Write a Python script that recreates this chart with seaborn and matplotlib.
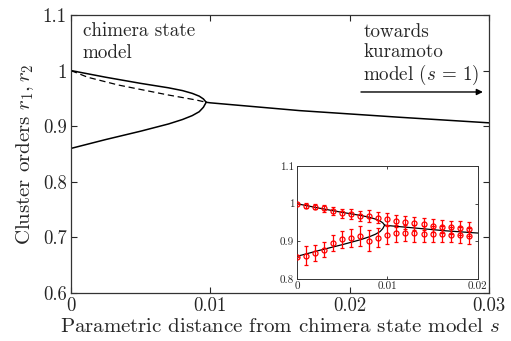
import matplotlib
matplotlib.use("Agg")
import matplotlib.pyplot as plt
import seaborn as sns
import pandas as pd

# ---- data ----
upper_s = [0.0, 0.0025, 0.0050, 0.0070, 0.0080, 0.0087, 0.0092, 0.0095, 0.0097]
upper_r = [1.000, 0.988, 0.977, 0.969, 0.964, 0.959, 0.954, 0.949, 0.943]
lower_s = [0.0, 0.0025, 0.0050, 0.0070, 0.0080, 0.0087, 0.0092, 0.0095, 0.0097]
lower_r = [0.860, 0.876, 0.891, 0.904, 0.912, 0.919, 0.926, 0.934, 0.943]
dashed_s = [0.0, 0.0012, 0.0034, 0.0050, 0.0070, 0.0090, 0.0097]
dashed_r = [1.000, 0.988, 0.974, 0.966, 0.956, 0.947, 0.943]
merged_s = [0.0097, 0.0100, 0.0164, 0.0236, 0.0300]
merged_r = [0.943, 0.942, 0.928, 0.916, 0.906]

sim_s = [0.000, 0.001, 0.002, 0.003, 0.004, 0.005, 0.006, 0.007, 0.008, 0.009,
         0.010, 0.011, 0.012, 0.013, 0.014, 0.015, 0.016, 0.017, 0.018, 0.019]
sim_upper = [1.000, 0.995, 0.992, 0.988, 0.980, 0.974, 0.972, 0.967, 0.967, 0.963,
             0.959, 0.955, 0.951, 0.948, 0.946, 0.942, 0.939, 0.937, 0.935, 0.933]
sim_upper_err = [0.000, 0.006, 0.007, 0.009, 0.011, 0.012, 0.013, 0.014, 0.015, 0.015,
                 0.016, 0.016, 0.017, 0.017, 0.017, 0.017, 0.017, 0.017, 0.018, 0.018]
sim_lower = [0.859, 0.862, 0.869, 0.878, 0.896, 0.905, 0.909, 0.914, 0.901, 0.910,
             0.918, 0.921, 0.922, 0.921, 0.920, 0.920, 0.919, 0.918, 0.917, 0.914]
sim_lower_err = [0.000, 0.026, 0.022, 0.020, 0.022, 0.022, 0.025, 0.026, 0.028, 0.025,
                 0.024, 0.022, 0.022, 0.022, 0.021, 0.021, 0.021, 0.021, 0.021, 0.021]

main_xticks = [0, 0.01, 0.02, 0.03]
main_xticklabels = ["0", "0.01", "0.02", "0.03"]
main_yticks = [0.6, 0.7, 0.8, 0.9, 1.0, 1.1]
main_yticklabels = ["0.6", "0.7", "0.8", "0.9", "1", "1.1"]
inset_xticks = [0, 0.01, 0.02]
inset_xticklabels = ["0", "0.01", "0.02"]
inset_yticks = [0.8, 0.9, 1.0, 1.1]
inset_yticklabels = ["0.8", "0.9", "1", "1.1"]

sns.set_style("ticks")
plt.rcParams["font.family"] = ["cmr10", "DejaVu Serif"]
plt.rcParams["mathtext.fontset"] = "cm"
plt.rcParams["axes.formatter.use_mathtext"] = True
plt.rcParams["axes.unicode_minus"] = False

fig = plt.figure(figsize=(5.11, 3.41), dpi=100)
ax = fig.add_axes([0.139, 0.141, 0.818, 0.815])


def curve(a, s, r, **kw):
    df = pd.DataFrame({"s": s, "r": r})
    sns.lineplot(data=df, x="s", y="r", sort=False, estimator=None, ax=a, **kw)


curve(ax, upper_s, upper_r, color="black", lw=1.1)
curve(ax, lower_s, lower_r, color="black", lw=1.1)
curve(ax, merged_s, merged_r, color="black", lw=1.1)
curve(ax, dashed_s, dashed_r, color="black", lw=0.9, linestyle=(0, (5, 3)))

ax.set_xlim(0, 0.03)
ax.set_ylim(0.6, 1.1)
ax.set_xticks(main_xticks)
ax.set_xticklabels(main_xticklabels)
ax.set_yticks(main_yticks)
ax.set_yticklabels(main_yticklabels)
ax.tick_params(direction="in", top=True, right=True, labelsize=13.5, length=4, width=0.8, pad=3)
for sp in ax.spines.values():
    sp.set_visible(True)
    sp.set_linewidth(0.9)
    sp.set_color("#333333")
ax.set_xlabel(r"Parametric distance from chimera state model $s$", fontsize=15, labelpad=2)
ax.set_ylabel(r"Cluster orders $r_1, r_2$", fontsize=15, labelpad=5)

txt_kw = dict(transform=ax.transAxes, fontsize=13.7, va="baseline", ha="left")
ax.text(0.028, 0.925, "chimera state", **txt_kw)
ax.text(0.028, 0.844, "model", **txt_kw)
ax.text(0.699, 0.921, "towards", **txt_kw)
ax.text(0.699, 0.849, "kuramoto", **txt_kw)
ax.text(0.699, 0.766, r"model ($s\,=\,1$)", **txt_kw)
ax.annotate("", xy=(0.992, 0.723), xytext=(0.687, 0.723), xycoords="axes fraction",
            arrowprops=dict(arrowstyle="-|>", color="black", lw=1.0, mutation_scale=9))

# ---- inset ----
ins = fig.add_axes([0.581, 0.182, 0.354, 0.331])
curve(ins, upper_s, upper_r, color="black", lw=0.9)
curve(ins, lower_s, lower_r, color="black", lw=0.9)
curve(ins, merged_s, merged_r, color="black", lw=0.9)
ins.errorbar(sim_s, sim_upper, yerr=sim_upper_err, fmt="o", mfc="none", mec="red",
             ecolor="red", ms=3.6, mew=0.9, elinewidth=0.9, capsize=1.5, capthick=0.8, zorder=5)
ins.errorbar(sim_s, sim_lower, yerr=sim_lower_err, fmt="o", mfc="none", mec="red",
             ecolor="red", ms=3.6, mew=0.9, elinewidth=0.9, capsize=1.5, capthick=0.8, zorder=5)
ins.set_xlim(0, 0.02)
ins.set_ylim(0.8, 1.1)
ins.set_xticks(inset_xticks)
ins.set_xticklabels(inset_xticklabels)
ins.set_yticks(inset_yticks)
ins.set_yticklabels(inset_yticklabels)
ins.set_xlabel("")
ins.set_ylabel("")
ins.tick_params(direction="in", top=True, right=True, labelsize=8, length=2.5, width=0.6, pad=2)
for sp in ins.spines.values():
    sp.set_visible(True)
    sp.set_linewidth(0.7)
    sp.set_color("#333333")

fig.savefig("out.png", dpi=100)
